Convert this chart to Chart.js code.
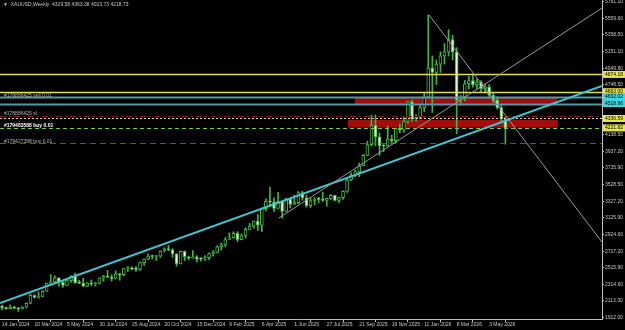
<!DOCTYPE html>
<html>
<head>
<meta charset="utf-8">
<script src="https://cdn.jsdelivr.net/npm/chart.js@4.4.1/dist/chart.umd.min.js"></script>
<style>
  html, body { margin: 0; padding: 0; background: #000; }
  #wrap { width: 625px; height: 330px; }
</style>
</head>
<body>
<div id="wrap"><canvas id="chart"></canvas></div>
<script>
// weekly XAUUSD candles, week 0 = 14 Jan 2024
const opens = [
  2049, 2029, 2018, 2039, 2024, 2013, 2035, 2083, 2179, 2155, 2165, 2230, 2329, 2344, 2392, 2337, 2301, 2360, 2415, 2333,
  2327, 2293, 2333, 2321, 2326, 2392, 2411, 2400, 2387, 2443, 2431, 2507, 2512, 2503, 2497, 2578, 2622, 2658, 2653, 2657,
  2721, 2747, 2736, 2685, 2563, 2716, 2650, 2633, 2648, 2622, 2621, 2640, 2690, 2703, 2770, 2800, 2861, 2882, 2936, 2858,
  2910, 2984, 3023, 3084, 3037, 3237, 3327, 3319, 3240, 3325, 3202, 3357, 3289, 3310, 3433, 3368, 3274, 3336, 3355, 3350,
  3336, 3363, 3398, 3336, 3371, 3447, 3586, 3643, 3685, 3760, 3886, 4018, 4252, 4113, 4002, 4001, 4084, 4065, 4218, 4198,
  4300, 4540, 4330, 4350, 4470, 4600, 4950, 4900, 5000, 5100, 5150, 5300, 5150, 4560, 4600, 4760, 4800, 4750, 4780, 4700,
  4720, 4620, 4560, 4470, 4329.58
];
const highs = [
  2062, 2036, 2065, 2044, 2032, 2041, 2088, 2195, 2185, 2222, 2236, 2330, 2431, 2418, 2392, 2353, 2378, 2422, 2450, 2364,
  2388, 2336, 2368, 2339, 2393, 2424, 2483, 2433, 2477, 2448, 2509, 2531, 2528, 2529, 2586, 2625, 2685, 2672, 2665, 2722,
  2759, 2790, 2750, 2686, 2721, 2721, 2657, 2726, 2664, 2638, 2665, 2697, 2726, 2786, 2817, 2886, 2942, 2955, 2956, 2930,
  3004, 3057, 3086, 3167, 3245, 3357, 3500, 3368, 3435, 3330, 3366, 3365, 3403, 3446, 3452, 3398, 3365, 3374, 3377, 3439,
  3363, 3409, 3404, 3379, 3453, 3600, 3675, 3707, 3791, 3897, 4059, 4380, 4381, 4161, 4020, 4245, 4133, 4218, 4265, 4353,
  4550, 4560, 4380, 4500, 4650, 5600, 5100, 5050, 5150, 5250, 5420, 5350, 5200, 4620, 4800, 4850, 4880, 4820, 4800, 4760,
  4750, 4650, 4600, 4500, 4363.38
];
const lows = [
  2002, 2010, 2017, 2015, 1984, 2011, 2025, 2078, 2146, 2146, 2163, 2228, 2325, 2325, 2291, 2277, 2297, 2338, 2325, 2322,
  2287, 2287, 2295, 2293, 2318, 2353, 2393, 2353, 2381, 2364, 2419, 2470, 2491, 2471, 2485, 2546, 2614, 2624, 2603, 2642,
  2708, 2725, 2643, 2536, 2563, 2605, 2613, 2631, 2583, 2596, 2605, 2614, 2656, 2699, 2730, 2772, 2860, 2877, 2833, 2857,
  2880, 2982, 3000, 2970, 2957, 3210, 3260, 3202, 3240, 3120, 3204, 3245, 3290, 3294, 3340, 3255, 3247, 3282, 3309, 3325,
  3268, 3349, 3330, 3311, 3351, 3436, 3577, 3627, 3628, 3759, 3884, 4000, 4004, 3886, 3931, 3997, 4022, 4040, 4161, 4166,
  4280, 4300, 4300, 4330, 4420, 4600, 4410, 4750, 4900, 5000, 5100, 5050, 4150, 4500, 4550, 4700, 4720, 4700, 4660, 4650,
  4600, 4530, 4450, 4300, 4023.73
];
const closes = [
  2029, 2018, 2039, 2024, 2013, 2035, 2083, 2179, 2155, 2165, 2230, 2329, 2344, 2392, 2337, 2301, 2360, 2415, 2333, 2327,
  2293, 2333, 2321, 2326, 2392, 2411, 2400, 2387, 2443, 2431, 2507, 2512, 2503, 2497, 2578, 2622, 2658, 2653, 2657, 2721,
  2747, 2736, 2685, 2563, 2716, 2650, 2633, 2648, 2622, 2621, 2640, 2690, 2703, 2770, 2800, 2861, 2882, 2936, 2858, 2910,
  2984, 3023, 3084, 3037, 3237, 3327, 3319, 3240, 3325, 3202, 3357, 3289, 3310, 3433, 3368, 3274, 3336, 3355, 3350, 3336,
  3363, 3398, 3336, 3371, 3447, 3586, 3643, 3685, 3760, 3886, 4018, 4252, 4113, 4002, 4001, 4084, 4065, 4218, 4198, 4300,
  4540, 4330, 4350, 4470, 4600, 4950, 4900, 5000, 5100, 5150, 5300, 5150, 4560, 4600, 4760, 4800, 4750, 4780, 4700, 4720,
  4620, 4560, 4470, 4330, 4218.73
];

const dateLabels = ["14 Jan 2024", "10 Mar 2024", "5 May 2024", "30 Jun 2024", "25 Aug 2024", "20 Oct 2024",
  "15 Dec 2024", "9 Feb 2025", "6 Apr 2025", "1 Jun 2025", "27 Jul 2025", "21 Sep 2025", "16 Nov 2025",
  "11 Jan 2026", "8 Mar 2026", "3 May 2026"];
const dateWeeks = [0, 8, 16, 24, 32, 40, 48, 56, 64, 72, 80, 88, 96, 104, 112, 120];

const priceTicks = [5761.10, 5559.60, 5358.50, 5151.10, 4949.80, 4748.50, 4138.50, 3937.20, 3735.90,
  3528.50, 3327.20, 3125.90, 2924.60, 2717.20, 2515.90, 2314.60, 2113.30, 1912.00];

// horizontal levels drawn on the chart
const levelPrices = [4874.18, 4663.00, 4602.02, 4518.96, 4371.00, 4336.59, 4221.82, 4034.00];
const levelStyles = ["yellow", "yellow", "teal", "teal", "sl", "dotted", "buy", "grey"];
const tagPrices = [4874.18, 4663.00, 4602.02, 4518.96, 4336.59, 4221.82];
const tagColors = ["#e6e64c", "#e6e64c", "#3cd6e0", "#3cd6e0", "#e6e64c", "#e6e64c"];

// shaded zones: [from week, to week, low, high]
const zones = [
  [86.9, 136.9, 4514, 4596],
  [85.2, 136.9, 4225, 4318]
];

// trend lines: [week1, price1, week2, price2]
const trendLines = [
  [-0.5, 2086, 147.8, 4733],
  [68.2, 3123, 147.8, 5684],
  [105.2, 5599, 147.8, 2830]
];

const orderNotes = ["#178886425 sell 0.01", "#178886425 sl", "#179483588 buy 0.01", "#179427388 buy 0.01"];
const orderNotePrices = [4615, 4395, 4245, 4060];

const weeks = opens.map((o, i) => i);
const upColor = "#3fb63f";

const overlay = {
  id: "overlay",
  beforeDatasetsDraw(chart) {
    const { ctx, chartArea: a, scales: { x, y } } = chart;
    ctx.save();
    ctx.beginPath();
    ctx.rect(a.left, a.top, a.right - a.left, a.bottom - a.top);
    ctx.clip();
    ctx.fillStyle = "#a50d0d";
    zones.forEach(z => {
      const x0 = x.getPixelForValue(z[0]), x1 = x.getPixelForValue(z[1]);
      const y0 = y.getPixelForValue(z[3]), y1 = y.getPixelForValue(z[2]);
      ctx.fillRect(x0, y0, x1 - x0, y1 - y0);
    });
    ctx.restore();
  },
  afterDatasetsDraw(chart) {
    const { ctx, chartArea: a, scales: { x, y } } = chart;
    ctx.save();
    ctx.beginPath();
    ctx.rect(a.left, a.top, a.right - a.left, a.bottom - a.top);
    ctx.clip();

    levelPrices.forEach((p, i) => {
      const py = Math.round(y.getPixelForValue(p)) + 0.5;
      const s = levelStyles[i];
      ctx.setLineDash([]);
      ctx.lineWidth = 1;
      if (s === "yellow") { ctx.strokeStyle = "#dede52"; ctx.lineWidth = 1.5; }
      if (s === "teal") { ctx.strokeStyle = "#4a9ea4"; ctx.lineWidth = 2; }
      if (s === "sl") { ctx.strokeStyle = "#8a1616"; ctx.setLineDash([6, 3, 2, 3]); }
      if (s === "dotted") { ctx.strokeStyle = "#d0d0d0"; ctx.setLineDash([2, 2]); }
      if (s === "buy") { ctx.strokeStyle = "#7ccf2e"; ctx.setLineDash([4, 3]); }
      if (s === "grey") { ctx.strokeStyle = "#555"; ctx.setLineDash([6, 4]); }
      ctx.beginPath();
      ctx.moveTo(a.left, py);
      ctx.lineTo(a.right, py);
      ctx.stroke();
    });
    ctx.setLineDash([]);

    trendLines.forEach((t, i) => {
      ctx.strokeStyle = i === 0 ? "#3fc4d4" : "#9a9a9a";
      ctx.lineWidth = i === 0 ? 2 : 1;
      ctx.beginPath();
      ctx.moveTo(x.getPixelForValue(t[0]), y.getPixelForValue(t[1]));
      ctx.lineTo(x.getPixelForValue(t[2]), y.getPixelForValue(t[3]));
      ctx.stroke();
    });

    ctx.textBaseline = "middle";
    orderNotes.forEach((n, i) => {
      const py = y.getPixelForValue(orderNotePrices[i]);
      ctx.fillStyle = i === 2 ? "#ffffff" : "#b4b4b4";
      if (i === 2) ctx.font = "bold 5px 'Liberation Sans', Arial, sans-serif";
      else ctx.font = "5px 'Liberation Sans', Arial, sans-serif";
      ctx.fillText(n, 4, py);
    });

    ctx.fillStyle = "#c8c8c8";
    ctx.font = "5px 'Liberation Sans', Arial, sans-serif";
    ctx.fillText("\u25BC  XAUUSD,Weekly  4329.58 4363.38 4023.73 4218.73", 3, 5);
    ctx.restore();
  },
  afterDraw(chart) {
    const { ctx, chartArea: a, scales: { y } } = chart;
    ctx.save();
    ctx.font = "5px 'Liberation Sans', Arial, sans-serif";
    ctx.textBaseline = "middle";
    tagPrices.forEach((p, i) => {
      const py = y.getPixelForValue(p);
      ctx.fillStyle = tagColors[i];
      ctx.fillRect(a.right + 1, py - 3.5, 22, 7);
      ctx.fillStyle = "#000";
      ctx.fillText(p.toFixed(2), a.right + 3, py);
    });
    ctx.restore();
  }
};

new Chart(document.getElementById("chart"), {
  type: "bar",
  data: {
    datasets: [
      {
        label: "wick",
        data: weeks.map(i => ({ x: i, y: [lows[i], highs[i]] })),
        backgroundColor: upColor,
        barThickness: 1,
        grouped: false,
        order: 2
      },
      {
        label: "body",
        data: weeks.map(i => ({ x: i, y: [opens[i], closes[i]] })),
        backgroundColor: weeks.map(i => closes[i] < opens[i] ? "#e4f4d8" : "#000000"),
        borderColor: upColor,
        borderWidth: 1,
        borderSkipped: false,
        barThickness: 3,
        minBarLength: 1,
        grouped: false,
        order: 1
      }
    ]
  },
  options: {
    responsive: true,
    maintainAspectRatio: false,
    animation: false,
    layout: { padding: 0 },
    plugins: {
      legend: { display: false },
      tooltip: { enabled: false }
    },
    scales: {
      x: {
        type: "linear",
        min: -0.5,
        max: 147.8,
        offset: false,
        afterBuildTicks(scale) {
          scale.ticks = dateWeeks.map(v => ({ value: v }));
        },
        afterFit(scale) {
          scale.height = 11;
          scale.paddingLeft = 0;
          scale.paddingRight = 0;
        },
        ticks: {
          callback: (v) => dateLabels[dateWeeks.indexOf(v)],
          color: "#c8c8c8",
          font: { size: 5, family: "'Liberation Sans', Arial, sans-serif" },
          align: "start",
          maxRotation: 0,
          autoSkip: false,
          padding: 0
        },
        grid: { drawOnChartArea: false, color: "#bdbdbd", tickLength: 3 },
        border: { color: "#bdbdbd" }
      },
      y: {
        position: "right",
        min: 1891.1,
        max: 5781.8,
        afterBuildTicks(scale) {
          scale.ticks = priceTicks.map(v => ({ value: v }));
        },
        afterFit(scale) {
          scale.width = 23;
          scale.paddingTop = 0;
          scale.paddingBottom = 0;
        },
        ticks: {
          callback: (v) => v.toFixed(2),
          color: "#c8c8c8",
          font: { size: 5, family: "'Liberation Sans', Arial, sans-serif" },
          padding: 1
        },
        grid: { drawOnChartArea: false, color: "#bdbdbd", tickLength: 2 },
        border: { color: "#bdbdbd" }
      }
    }
  },
  plugins: [overlay]
});
</script>
</body>
</html>
